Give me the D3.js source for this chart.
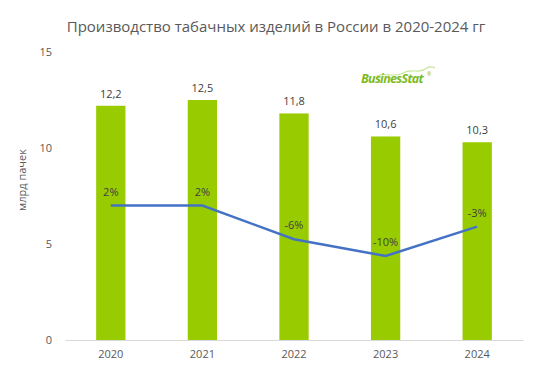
<!DOCTYPE html>
<html>
<head>
  <meta charset="UTF-8">
  <title>Производство табачных изделий</title>
  <style>
    body { margin: 0; background: #fff; }
    text { font-family: "Open Sans", "Noto Sans", sans-serif; }
  </style>
</head>
<body>
  <svg width="545" height="366"></svg>
  <script src="https://d3js.org/d3.v7.min.js"></script>
  <script>
    // data
    const years = ['2020', '2021', '2022', '2023', '2024'];
    const output = [12.2, 12.5, 11.8, 10.6, 10.3];
    const change = [2, 2, -6, -10, -3];
    const yTicks = [0, 5, 10, 15];

    const margin = { top: 52, right: 22, bottom: 26, left: 65 };
    const width = 545 - margin.left - margin.right;
    const height = 366 - margin.top - margin.bottom;

    const svg = d3.select('svg');

    // title
    svg.append('text')
      .attr('x', 276)
      .attr('y', 32)
      .attr('text-anchor', 'middle')
      .attr('font-size', '15px')
      .attr('fill', '#595959')
      .text('Производство табачных изделий в России в 2020-2024 гг');

    const g = svg.append('g')
      .attr('transform', `translate(${margin.left}, ${margin.top})`);

    const x = d3.scaleBand().domain(years).range([0, width]).paddingInner(0.68).paddingOuter(0.34);
    const y = d3.scaleLinear().domain([0, 15]).range([height, 0]);
    // hidden secondary axis for the % change line
    const y2 = d3.scaleLinear().domain([-30, 20]).range([height, height - 210]);

    // y axis (labels only)
    const yAxis = g.append('g')
      .attr('transform', 'translate(-13,0)')
      .call(d3.axisLeft(y).tickValues(yTicks).tickSize(0).tickPadding(0));
    yAxis.select('.domain').remove();
    yAxis.selectAll('text')
      .attr('font-size', '11px')
      .attr('fill', '#595959')
      .style('font-family', '"Open Sans", sans-serif');

    // y axis title
    g.append('text')
      .attr('transform', 'rotate(-90)')
      .attr('x', -(height / 2) + 16)
      .attr('y', -39)
      .attr('text-anchor', 'middle')
      .attr('font-size', '11px')
      .attr('fill', '#595959')
      .text('млрд  пачек');

    // bars
    g.selectAll('.bar')
      .data(years)
      .enter()
      .append('rect')
      .attr('class', 'bar')
      .attr('x', d => x(d))
      .attr('y', (d, i) => y(output[i]))
      .attr('width', x.bandwidth())
      .attr('height', (d, i) => height - y(output[i]))
      .attr('fill', '#99cc00');

    // bar value labels
    g.selectAll('.val')
      .data(years)
      .enter()
      .append('text')
      .attr('x', d => x(d) + x.bandwidth() / 2)
      .attr('y', (d, i) => y(output[i]) - 8)
      .attr('text-anchor', 'middle')
      .attr('font-size', '11px')
      .attr('fill', '#404040')
      .text((d, i) => String(output[i]).replace('.', ','));

    // x axis
    const xAxis = g.append('g')
      .attr('transform', `translate(0, ${height})`)
      .call(d3.axisBottom(x).tickSize(0).tickPadding(10));
    xAxis.select('.domain').attr('stroke', '#d9d9d9');
    xAxis.selectAll('text')
      .attr('font-size', '11px')
      .attr('fill', '#595959')
      .style('font-family', '"Open Sans", sans-serif');

    // change line
    const line = d3.line()
      .x((d, i) => x(years[i]) + x.bandwidth() / 2)
      .y(d => y2(d));

    g.append('path')
      .datum(change)
      .attr('d', line)
      .attr('fill', 'none')
      .attr('stroke', '#4472c4')
      .attr('stroke-width', 2.5);

    g.selectAll('.pct')
      .data(change)
      .enter()
      .append('text')
      .attr('x', (d, i) => x(years[i]) + x.bandwidth() / 2)
      .attr('y', d => y2(d) - 10)
      .attr('text-anchor', 'middle')
      .attr('font-size', '11px')
      .attr('fill', '#404040')
      .text(d => d + '%');

    // BusinesStat logo
    const logo = svg.append('g').attr('transform', 'translate(361, 83)');
    logo.append('path')
      .attr('d', 'M16,-7 C26,-11 34,-5 42,-10 C50,-15 58,-9 64,-14 C68,-17 72,-16 74,-15')
      .attr('fill', 'none')
      .attr('stroke', '#c9e59a')
      .attr('stroke-width', 1.2);
    logo.append('text')
      .attr('x', 0)
      .attr('y', 0)
      .attr('font-size', '12.5px')
      .attr('font-weight', 'bold')
      .attr('font-style', 'italic')
      .attr('fill', '#7cbb1f')
      .attr('letter-spacing', '-0.7')
      .text('BusinesStat');
    logo.append('text')
      .attr('x', 66)
      .attr('y', -7)
      .attr('font-size', '5px')
      .attr('fill', '#7cbb1f')
      .text('®');
  </script>
</body>
</html>
